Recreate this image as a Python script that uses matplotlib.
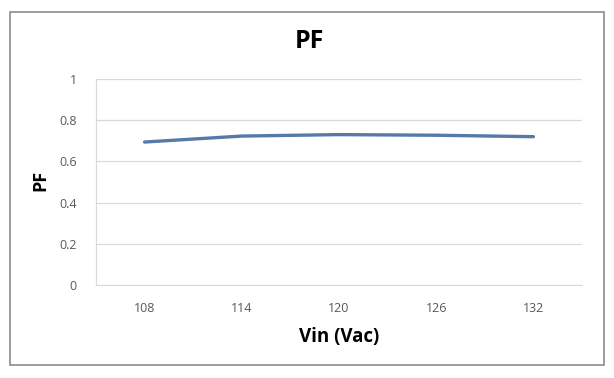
import matplotlib
matplotlib.use("Agg")
import matplotlib.pyplot as plt
from matplotlib.patches import Rectangle

# data
vin_labels = ["108", "114", "120", "126", "132"]
pf_values = [0.694, 0.723, 0.730, 0.727, 0.720]
y_ticks = [0, 0.2, 0.4, 0.6, 0.8, 1]

plt.rcParams['font.family'] = ['Open Sans', 'DejaVu Sans']

fig = plt.figure(figsize=(6.14, 3.78), dpi=100)
ax = fig.add_axes([96 / 614, 1 - 285 / 378, 486 / 614, 206 / 378])

# outer chart border like Excel
fig.patches.append(Rectangle((10 / 614, 1 - 365 / 378), 594 / 614, 353 / 378,
                             transform=fig.transFigure, fill=False,
                             edgecolor='#8c8c8c', linewidth=1.2))

x = range(len(vin_labels))
ax.plot(x, pf_values, color='#5679a9', linewidth=2.4, solid_capstyle='round')

ax.set_xlim(-0.5, len(vin_labels) - 0.5)
ax.set_ylim(0, 1)
ax.set_xticks(list(x))
ax.set_xticklabels(vin_labels)
ax.set_yticks(y_ticks)
ax.set_yticklabels([f"{v:g}" for v in y_ticks])
ax.tick_params(length=0, labelsize=9, colors='#595959', pad=12)
ax.tick_params(axis='y', pad=14)

ax.grid(axis='y', color='#d9d9d9', linewidth=0.9)
ax.set_axisbelow(True)
for side in ['top', 'right']:
    ax.spines[side].set_visible(False)
ax.spines['left'].set_color('#d9d9d9')
ax.spines['bottom'].set_color('#d9d9d9')

fig.text(309 / 614, 1 - 42 / 378, "PF", ha='center', va='center',
         fontsize=18, fontweight='bold')
fig.text(40 / 614, 1 - 180 / 378, "PF", ha='center', va='center', rotation=90,
         fontsize=13, fontweight='bold')
fig.text(339 / 614, 1 - 337 / 378, "Vin (Vac)", ha='center', va='center',
         fontsize=13.5, fontweight='bold')

fig.savefig("out.png", dpi=100, facecolor='white')
